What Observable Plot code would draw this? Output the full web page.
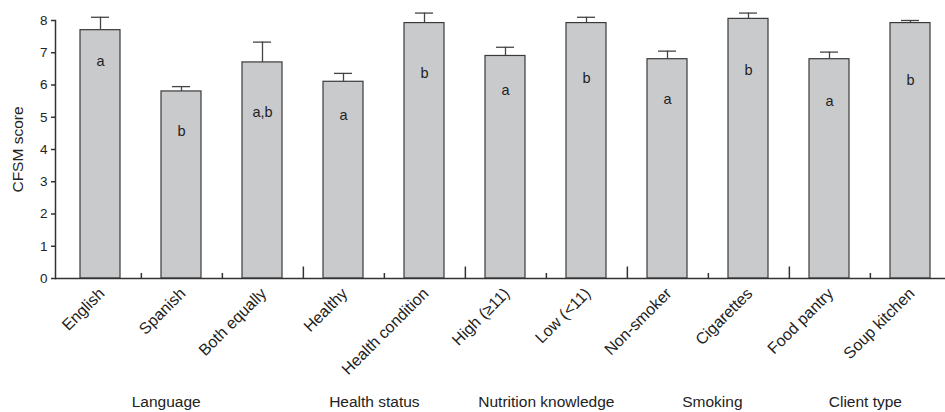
<!DOCTYPE html>
<html><head><meta charset="utf-8">
<script src="https://cdn.jsdelivr.net/npm/d3@7"></script>
<script src="https://cdn.jsdelivr.net/npm/@observablehq/plot@0.6"></script>
<style>html,body{margin:0;padding:0;background:#fff;overflow:hidden}</style>
</head><body><div id="chart"></div>
<script>
const categories = ["English","Spanish","Both equally","Healthy","Health condition","High (≥11)","Low (<11)","Non-smoker","Cigarettes","Food pantry","Soup kitchen"];
const categoryGroup = ["Language","Language","Language","Health status","Health status","Nutrition knowledge","Nutrition knowledge","Smoking","Smoking","Client type","Client type"];
const groups = ["Language","Health status","Nutrition knowledge","Smoking","Client type"];
const means = [7.7, 5.8, 6.7, 6.1, 7.92, 6.9, 7.92, 6.8, 8.05, 6.8, 7.92];
const errors = [0.4, 0.15, 0.63, 0.26, 0.31, 0.27, 0.18, 0.25, 0.18, 0.22, 0.08];
const letters = ["a","b","a,b","a","b","a","b","a","b","a","b"];
const letterY = [6.72, 4.55, 5.15, 5.05, 6.36, 5.84, 6.22, 5.55, 6.44, 5.5, 6.15];
const yTicks = [0,1,2,3,4,5,6,7,8];

const W = 945, H = 412, mL = 55, mT = 20, mB = 134;
const xRange = [mL, 954];
const step = (xRange[1] - xRange[0]) / categories.length;
const pxPerUnit = (H - mB - mT) / 8;
// small hand nudges of the group captions, as in the original figure
const groupNudge = [-16, -10, 0, 4, -5];

const rows = categories.map((c, i) => ({cat: c, group: categoryGroup[i], mean: means[i], upper: means[i] + errors[i], letter: letters[i], ly: letterY[i]}));
const seps = categories.slice(0, -1).map((c, i) => ({cat: c, major: categoryGroup[i] !== categoryGroup[i + 1]}));

const groupMarks = groups.map((g, k) => {
  const idx = categories.map((c, i) => i).filter(i => categoryGroup[i] === g);
  return Plot.text([g], {
    x: () => categories[idx[0]], frameAnchor: "bottom", text: d => d,
    dx: (idx.length - 1) / 2 * step + groupNudge[k], dy: 124, lineAnchor: "middle", textAnchor: "middle",
    fontSize: 15.5, fill: "#222"
  });
});

const chart = Plot.plot({
  width: W, height: H, marginLeft: mL, marginRight: 0, marginTop: mT, marginBottom: mB,
  style: {fontFamily: "'Liberation Sans', Arial, sans-serif", fontSize: "13px", color: "#222", background: "#fff"},
  x: {domain: categories, range: xRange, paddingInner: 0.51, paddingOuter: 0.255, axis: null},
  y: {domain: [0, 8], axis: null},
  marks: [
    Plot.barY(rows, {x: "cat", y: "mean", fill: "#c9cacc", stroke: "#3a3a3a", strokeWidth: 1.2}),
    Plot.ruleX(rows, {x: "cat", y1: "mean", y2: "upper", stroke: "#444", strokeWidth: 1.3}),
    Plot.tickY(rows, {x: "cat", y: "upper", insetLeft: 11, insetRight: 11, stroke: "#444", strokeWidth: 1.3}),
    Plot.text(rows, {x: "cat", y: "ly", text: "letter", fontSize: 14.5, fill: "#222", lineAnchor: "middle"}),
    Plot.ruleY([0], {stroke: "#333", strokeWidth: 1.5}),
    Plot.ruleX(seps, {x: "cat", dx: step / 2, y1: 0, y2: d => (d.major ? 11.5 : 5) / pxPerUnit, stroke: "#333", strokeWidth: 1.5}),
    Plot.axisY({ticks: yTicks, tickSize: 4, tickPadding: 4, fontSize: 13.5, label: null, stroke: "#333", strokeWidth: 1.5, fill: "#222"}),
    Plot.frame({anchor: "left", stroke: "#333", strokeWidth: 1.5}),
    Plot.text(["CFSM score"], {frameAnchor: "left", text: d => d, rotate: -90, dx: -37, textAnchor: "middle", lineAnchor: "middle", fontSize: 15.5, fill: "#222"}),
    Plot.text(rows, {x: "cat", frameAnchor: "bottom", text: "cat", rotate: -45, textAnchor: "end", lineAnchor: "bottom", dx: 5, dy: 16, fontSize: 16, fill: "#222"}),
    ...groupMarks
  ]
});
document.getElementById("chart").appendChild(chart);
</script>
</body></html>
